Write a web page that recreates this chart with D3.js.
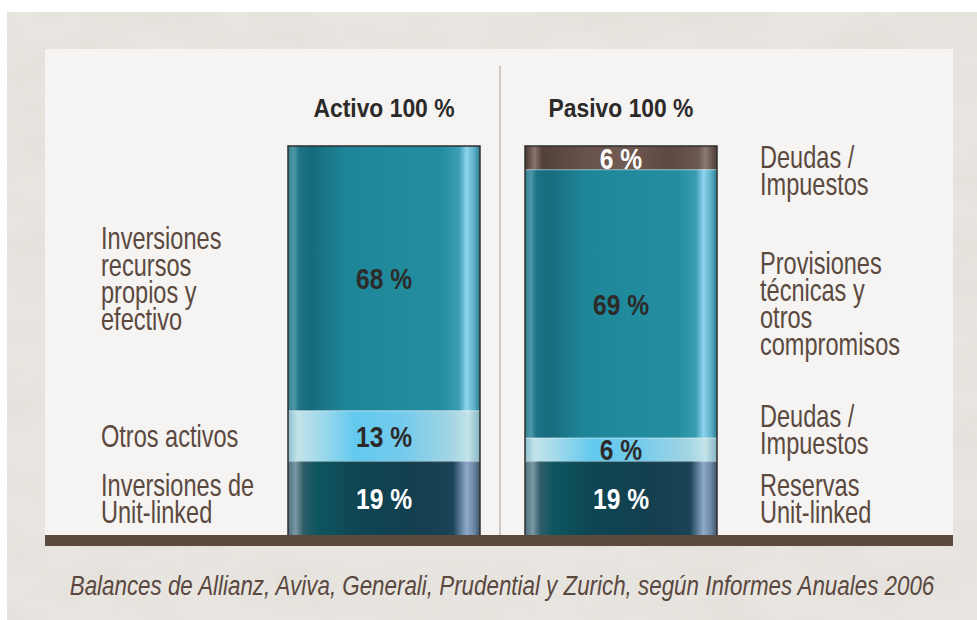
<!DOCTYPE html>
<html>
<head>
<meta charset="utf-8">
<script src="https://cdn.jsdelivr.net/npm/d3@7"></script>
<style>
  body { margin: 0; background: #ffffff; }
  svg { display: block; }
  text { font-family: "Liberation Sans", Arial, sans-serif; }
</style>
</head>
<body>
<script>
// --- data ---
var barNames = ["Activo 100 %", "Pasivo 100 %"];

// segments listed bottom -> top
var activoValues = [19, 13, 68];
var activoTones = ["dark", "light", "teal"];
var activoLabels = ["Inversiones de\nUnit-linked", "Otros activos", "Inversiones\nrecursos\npropios y\nefectivo"];

var pasivoValues = [19, 6, 69, 6];
var pasivoTones = ["dark", "light", "teal", "brown"];
var pasivoLabels = ["Reservas\nUnit-linked", "Deudas /\nImpuestos", "Provisiones\ntécnicas y\notros\ncompromisos", "Deudas /\nImpuestos"];

var caption = "Balances de Allianz, Aviva, Generali, Prudential y Zurich, según Informes Anuales 2006";

var width = 977,
    height = 620;

var svg = d3.select("body").append("svg")
    .attr("width", width)
    .attr("height", height);

var defs = svg.append("defs");

// paper grain
var grain = defs.append("filter").attr("id", "grain")
    .attr("x", 0).attr("y", 0).attr("width", "100%").attr("height", "100%");
grain.append("feTurbulence")
    .attr("type", "fractalNoise")
    .attr("baseFrequency", "0.012 0.03")
    .attr("numOctaves", 3)
    .attr("seed", 7);
grain.append("feColorMatrix")
    .attr("type", "matrix")
    .attr("values", "0 0 0 0 0.55  0 0 0 0 0.50  0 0 0 0 0.45  0.25 0 0 0 -0.08");

// horizontal gradients that give the bars their glassy look
var toneStops = {
  teal: [[0, "#2f7f90"], [3, "#4f98a8"], [6, "#1d7486"], [12, "#166b7c"], [30, "#1f8598"], [55, "#208b9c"], [80, "#248ea0"], [89, "#3a9db3"], [93, "#8ed3ee"], [97, "#5aaec6"], [100, "#2a7c8f"]],
  light: [[0, "#8dbccb"], [5, "#c2e4e9"], [15, "#a6dbea"], [35, "#63c9ef"], [60, "#74cbec"], [85, "#a3d5e3"], [94, "#c2e3e8"], [100, "#86b5c4"]],
  dark: [[0, "#4e6f7c"], [4, "#7a98a4"], [8, "#2f5d68"], [15, "#0c5660"], [35, "#0f4653"], [65, "#133f4f"], [86, "#1b4357"], [93, "#8ea9cb"], [97, "#6a86a2"], [100, "#3c5466"]],
  brown: [[0, "#4a3732"], [5, "#8a746b"], [9, "#53403b"], [30, "#66504a"], [50, "#715b52"], [75, "#5d4842"], [90, "#6a5750"], [94, "#8a7a70"], [100, "#4d3b36"]]
};
Object.keys(toneStops).forEach(function(k) {
  var g = defs.append("linearGradient").attr("id", "tone-" + k)
      .attr("x1", 0).attr("x2", 1).attr("y1", 0).attr("y2", 0);
  toneStops[k].forEach(function(s) {
    g.append("stop").attr("offset", s[0] + "%").attr("stop-color", s[1]);
  });
});
var labelColor = { teal: "#2c2b2a", light: "#2c2b2a", dark: "#ffffff", brown: "#ffffff" };

// backdrop: textured beige card with a lighter panel
svg.append("rect").attr("x", 7).attr("y", 12).attr("width", width - 7).attr("height", height - 12).attr("fill", "#e9e6e1");
svg.append("rect").attr("x", 7).attr("y", 12).attr("width", width - 7).attr("height", height - 12).attr("filter", "url(#grain)");
svg.append("rect").attr("x", 45).attr("y", 49).attr("width", 908).attr("height", 497).attr("fill", "#f5f4f2");

// scales
var x = d3.scaleBand()
    .domain(barNames)
    .range([288, 717])
    .paddingInner(0.19);

var y = d3.scaleLinear()
    .domain([0, 100])
    .range([535, 146]);

// divider between the two columns
svg.append("line")
    .attr("x1", 500).attr("x2", 500)
    .attr("y1", 66).attr("y2", y(0))
    .attr("stroke", "#cdc8c3")
    .attr("stroke-width", 2);

function stack(values, tones, labels) {
  var acc = 0;
  return values.map(function(v, i) {
    var d = { value: v, tone: tones[i], label: labels[i], y0: acc, y1: acc + v };
    acc += v;
    return d;
  });
}

// the source uses a condensed face; squeeze a regular one horizontally
function place(px, py, sx) {
  return "translate(" + px + "," + py + ") scale(" + sx + ",1)";
}

var columns = [
  { name: barNames[0], segs: stack(activoValues, activoTones, activoLabels), side: "left" },
  { name: barNames[1], segs: stack(pasivoValues, pasivoTones, pasivoLabels), side: "right" }
];

var lineH = 27, capH = 22;

columns.forEach(function(col) {
  var bx = x(col.name), bw = x.bandwidth();
  var g = svg.append("g").attr("class", "column");

  g.selectAll("rect.seg")
    .data(col.segs)
    .enter().append("rect")
    .attr("class", "seg")
    .attr("x", bx)
    .attr("width", bw)
    .attr("y", function(d) { return y(d.y1); })
    .attr("height", function(d) { return y(d.y0) - y(d.y1); })
    .attr("fill", function(d) { return "url(#tone-" + d.tone + ")"; });

  // faint highlight on each segment boundary
  g.selectAll("line.edge")
    .data(col.segs.slice(0, -1))
    .enter().append("line")
    .attr("x1", bx).attr("x2", bx + bw)
    .attr("y1", function(d) { return y(d.y1) + 0.5; })
    .attr("y2", function(d) { return y(d.y1) + 0.5; })
    .attr("stroke", "rgba(255,255,255,0.35)");

  // outline
  g.append("path")
    .attr("d", "M" + bx + "," + y(0) + "V" + y(100) + "H" + (bx + bw) + "V" + y(0))
    .attr("fill", "none")
    .attr("stroke", "#2e2e2e")
    .attr("stroke-width", 1.5);

  // values inside the bar
  g.selectAll("text.val")
    .data(col.segs)
    .enter().append("text")
    .attr("class", "val")
    .attr("transform", function(d) { return place(bx + bw / 2, y((d.y0 + d.y1) / 2) + capH / 2, 0.82); })
    .attr("text-anchor", "middle")
    .style("font-size", "30px")
    .style("font-weight", "bold")
    .style("fill", function(d) { return labelColor[d.tone]; })
    .text(function(d) { return d.value + " %"; });

  // column title
  g.append("text")
    .attr("transform", place(bx + bw / 2, 117, 0.88))
    .attr("text-anchor", "middle")
    .style("font-size", "26px")
    .style("font-weight", "bold")
    .style("fill", "#2b2a29")
    .text(col.name);

  // side labels: centred on their segment, then nudged so blocks don't collide
  var blocks = col.segs.map(function(d) {
    var lines = d.label.split("\n");
    var cy = y((d.y0 + d.y1) / 2);
    var first = cy - (lines.length - 1) * lineH / 2 + capH / 2;
    return { lines: lines, first: first };
  });
  function top(b) { return b.first - capH; }
  function bottom(b) { return b.first + (b.lines.length - 1) * lineH + 6; }
  // topmost block stays within the bar
  var last = blocks[blocks.length - 1];
  if (top(last) < y(100)) last.first += y(100) - top(last);
  // push blocks up away from the one below
  for (var i = 1; i < blocks.length; i++) {
    var over = bottom(blocks[i]) - (top(blocks[i - 1]) - 14);
    if (over > 0) blocks[i].first -= over;
  }

  var lx = col.side === "left" ? bx - 187 : bx + bw + 43;
  blocks.forEach(function(b) {
    var t = g.append("text")
      .attr("transform", place(lx, b.first, 0.76))
      .style("font-size", "31px")
      .style("fill", "#5b4940");
    t.selectAll("tspan")
      .data(b.lines)
      .enter().append("tspan")
      .attr("x", 0)
      .attr("dy", function(d, j) { return j === 0 ? 0 : lineH; })
      .text(function(d) { return d; });
  });
});

// brown base line
svg.append("rect")
    .attr("x", 45).attr("y", y(0))
    .attr("width", 908).attr("height", 11)
    .attr("fill", "#5c4a3f");

// caption, squeezed to the width it takes in the source
var cap = svg.append("text")
    .attr("text-anchor", "middle")
    .style("font-size", "28px")
    .style("font-style", "italic")
    .style("fill", "#5a4840")
    .text(caption);
var capW = cap.node().getComputedTextLength();
cap.attr("transform", place(502, 595, Math.min(1, 865 / capW)));
</script>
</body>
</html>
